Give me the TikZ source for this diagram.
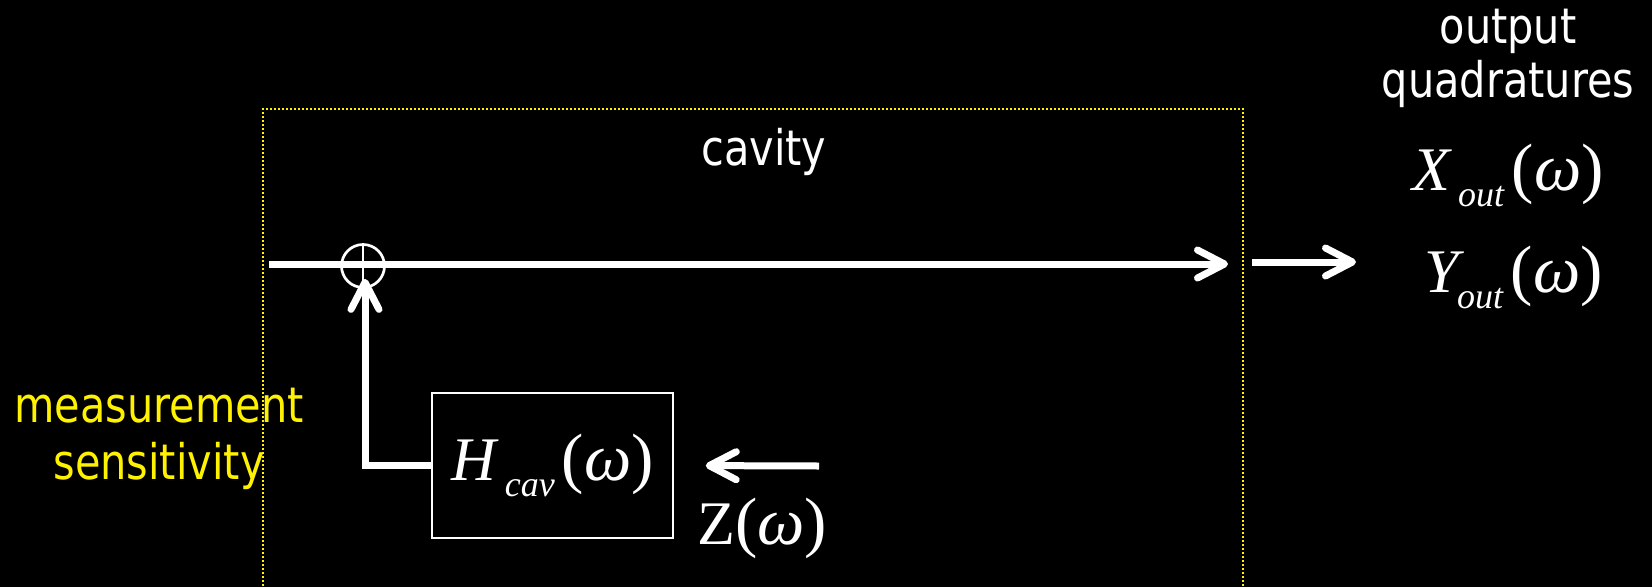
\documentclass[tikz,border=0pt]{standalone}
\usepackage{fontspec}
\setmainfont{DejaVu Sans Condensed}[FakeStretch=0.94]
\newfontfamily\tnr{Liberation Serif}
\usetikzlibrary{arrows.meta,positioning}

\newcommand{\omg}{{\fontsize{67}{67}\selectfont(\textit{ω})}}
\newcommand{\quantity}[3][6pt]{\textit{#2}\kern#1\raisebox{-16pt}{\fontsize{36}{36}\selectfont\textit{#3}}\kern7pt\omg}

\tikzset{
  wire/.style={draw=white, line width=7pt},
  flow/.style={wire, -{Straight Barb[length=27pt,width=28pt,round]}},
  label/.style={inner sep=0pt, anchor=base, align=center, font=\fontsize{49}{57}\selectfont},
  quant/.style={inner sep=0pt, anchor=base west, text=white, font=\fontsize{62}{62}\selectfont\tnr},
  block/.style={draw=white, line width=1.5pt, inner sep=0pt, minimum width=241pt,
    minimum height=145pt, text=white, font=\fontsize{62}{62}\selectfont\tnr},
  sum/.style={circle, draw=white, line width=2.7pt, minimum size=43pt, inner sep=0pt,
    path picture={\draw[white, line width=1.5pt]
      (path picture bounding box.north) -- (path picture bounding box.south)
      (path picture bounding box.west) -- (path picture bounding box.east);}},
}

\begin{document}
\begin{tikzpicture}[x=1pt, y=-1pt]
\useasboundingbox (0,0) rectangle (1652,587);
\fill[black] (0,0) rectangle (1652,587);

% cavity frame
\draw[yellow, line width=2pt, dash pattern=on 2pt off 2pt] (263,590) |- (1243,109) -- (1243,590);
\node[label, text=white] (cavlab) at (764,165) {cavity};
\node[label, text=yellow] (sens) at (159,479) {measurement\\sensitivity};

% main path
\coordinate (in) at (269,264);
\coordinate (cavend) at (1228,264);
\draw[flow] (in) -- (cavend);
\node[sum] (sum) at (363,266) {};

% feedback
\node[block] (hcav) at (552.5,465.5) {\quantity{H}{cav}};
\draw[flow] (hcav.west) -| ([xshift=2pt,yshift=10pt]sum.south);
\coordinate (zin) at (819,466);
\draw[flow, shorten >=32pt] (zin) -- (hcav.east);
\node[quant] (zlab) at (697,544) {Z\omg};

% output
\coordinate (outstart) at (1252,262);
\coordinate (outend) at (1356,262);
\draw[flow] (outstart) -- (outend);
\node[label, text=white, font=\fontsize{49}{54}\selectfont] (outlab) at (1508,97) {output\\quadratures};
\node[quant] (xout) at (1412,190) {\quantity{X}{out}};
\node[quant] (yout) at (1424,292) {\quantity[-7pt]{Y}{out}};
\end{tikzpicture}
\end{document}
